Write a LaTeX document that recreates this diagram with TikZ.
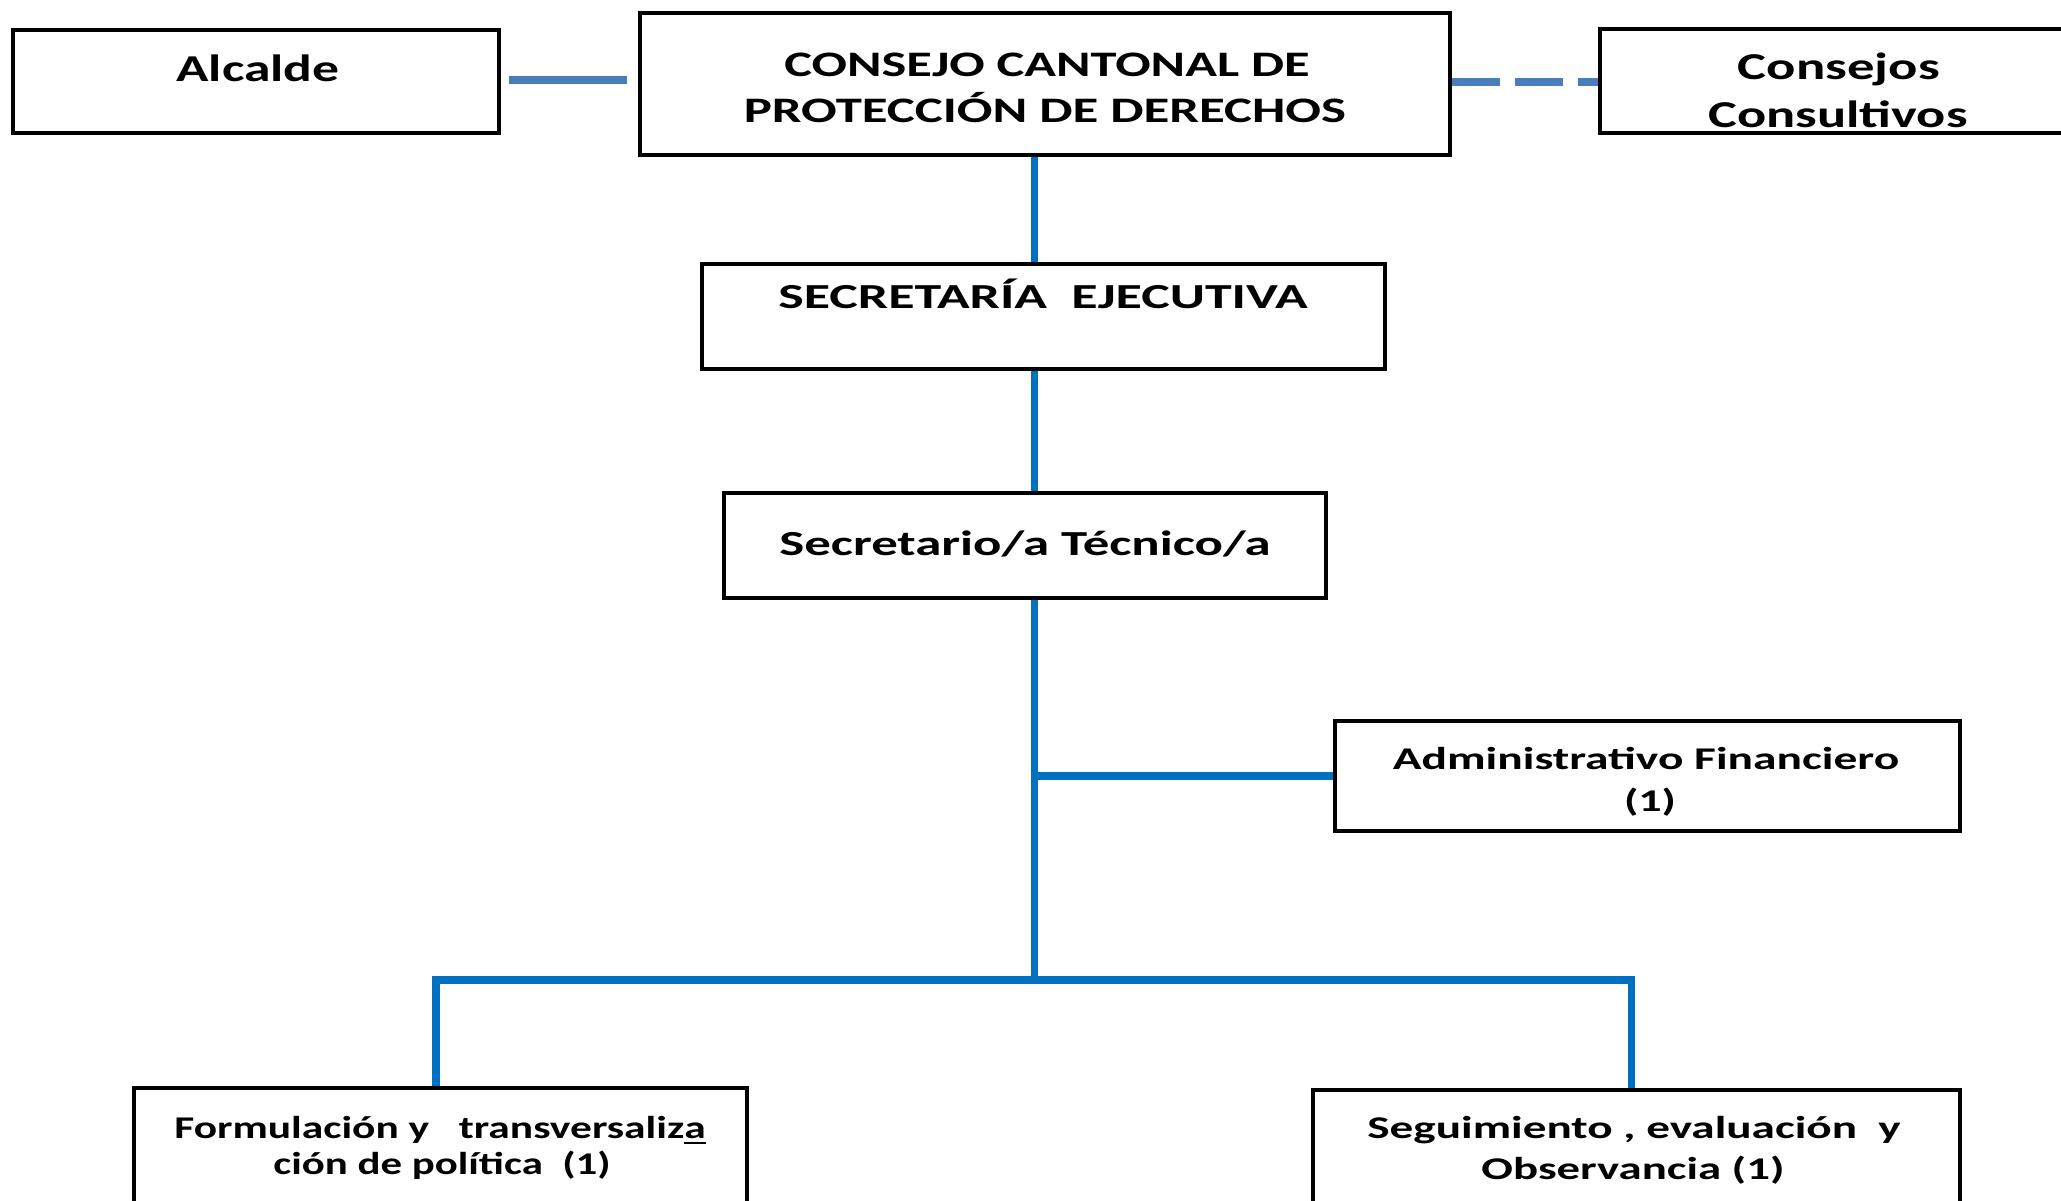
\documentclass[tikz,border=0pt]{standalone}
\usepackage{fontspec}
\setmainfont{Carlito}
\usepackage{graphicx}
\definecolor{mainblue}{HTML}{0070C0}
\definecolor{softblue}{HTML}{4A7EBB}
\tikzset{
 box/.style={draw=black, line width=1.2pt, rectangle, inner sep=0pt},
 lbl/.style={anchor=base, inner sep=0pt},
 link/.style={draw=mainblue, line width=2pt},
 sidelink/.style={draw=softblue, line width=2pt},
 dashlink/.style={sidelink, dash pattern=on 0.48cm off 0.15cm},
}
\newcommand\fsz[1]{\fontsize{#1}{#1}\selectfont\bfseries}
\newcommand\stretchto[2]{\resizebox{#1cm}{\height}{#2}}
\begin{document}
\begin{tikzpicture}[x=0.01cm,y=-0.01cm]
\useasboundingbox (0,0) rectangle (2061,1200);
\fill[white] (0,0) rectangle (2061,1200);
\clip (0,0) rectangle (2061,1200);

% boxes
\node[box, minimum width=4.86cm, minimum height=1.03cm] (alc) at (256,81.5) {};
\node[box, minimum width=8.10cm, minimum height=1.42cm] (con) at (1045,84) {};
\node[box, minimum width=4.82cm, minimum height=1.04cm] (ccs) at (1841,81) {};
\node[box, minimum width=6.83cm, minimum height=1.05cm] (sej) at (1043.5,316.5) {};
\node[box, minimum width=6.02cm, minimum height=1.05cm] (stc) at (1025,545.5) {};
\node[box, minimum width=6.25cm, minimum height=1.10cm] (adm) at (1647.5,776) {};
\node[box, minimum width=6.13cm, minimum height=1.42cm] (frm) at (440.5,1159) {};
\node[box, minimum width=6.47cm, minimum height=1.40cm] (seg) at (1636.5,1160) {};

% texts
\node[lbl, font=\fsz{10.8pt}] (talc) at (258,81) {\stretchto{1.63}{Alcalde}};
\node[lbl, font=\fsz{10.2pt}] (tcon1) at (1047,76) {\stretchto{5.25}{CONSEJO CANTONAL DE}};
\node[lbl, font=\fsz{10.2pt}] (tcon2) at (1045,122) {\stretchto{6.02}{PROTECCIÓN DE DERECHOS}};
\node[lbl, font=\fsz{10.8pt}] (tccs1) at (1839,80) {\stretchto{2.02}{Consejos}};
\node[lbl, font=\fsz{10.8pt}] (tccs2) at (1838,127) {\stretchto{2.59}{Consultivos}};
\node[lbl, font=\fsz{10pt}] (tsej) at (1043,308) {\stretchto{5.29}{SECRETARÍA\ \ EJECUTIVA}};
\node[lbl, font=\fsz{10pt}] (tstc) at (1025,555) {\stretchto{4.91}{Secretario/a Técnico/a}};
\node[lbl, font=\fsz{9pt}] (tadm1) at (1646,769) {\stretchto{5.06}{Administrativo Financiero}};
\node[lbl, font=\fsz{9pt}] (tadm2) at (1650,811) {\stretchto{0.52}{(1)}};
\node[lbl, font=\fsz{9pt}] (tfrm1) at (440,1138) {\stretchto{5.31}{Formulación y\ \ \ transversaliz\underline{a}}};
\node[lbl, font=\fsz{9pt}] (tfrm2) at (442,1174) {\stretchto{3.37}{ción de política\ \ (1)}};
\node[lbl, font=\fsz{9pt}] (tseg1) at (1634,1138) {\stretchto{5.33}{Seguimiento , evaluación\ \ y}};
\node[lbl, font=\fsz{9pt}] (tseg2) at (1633,1179) {\stretchto{3.03}{Observancia (1)}};

% helper coordinates
\coordinate (v) at (1034,0);
\coordinate (busL) at (436,980);
\coordinate (busR) at (1631,980);

% connectors
\draw[sidelink, shorten <=0.08cm, shorten >=0.11cm] (alc.east |- 0,80) -- (con.west |- 0,80);
\draw[dashlink] (con.east |- 0,82) -- (ccs.west |- 0,82);
\draw[link] (con.south -| v) -- (sej.north -| v);
\draw[link] (sej.south -| v) -- (stc.north -| v);
\draw[link] (stc.south -| v) -- (v |- busL);
\draw[link] (v |- adm.west) -- (adm.west);
\draw[link, line cap=rect] (busL) -- (busR);
\draw[link] (busL) -- (frm.north -| busL);
\draw[link] (busR) -- (seg.north -| busR);
\end{tikzpicture}
\end{document}
